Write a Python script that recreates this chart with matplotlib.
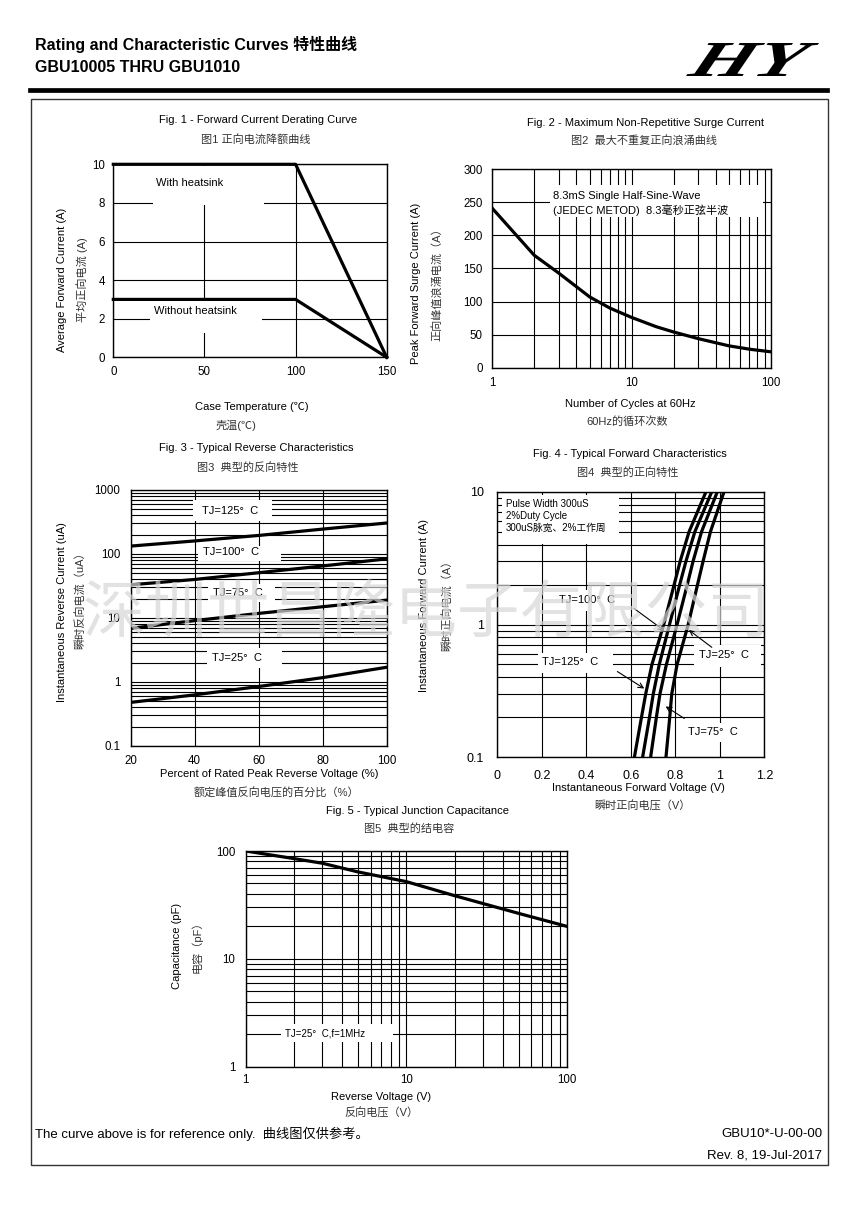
import matplotlib
matplotlib.use('Agg')
import matplotlib.pyplot as plt
from matplotlib.patches import Rectangle, PathPatch
from matplotlib.lines import Line2D
from matplotlib.textpath import TextPath
from matplotlib.font_manager import FontProperties
from matplotlib.transforms import Affine2D
from matplotlib.ticker import NullFormatter

plt.rcParams['font.family'] = ['Liberation Sans', 'Noto Sans CJK SC']

# ---- data ----
# Fig.1 derating
f1_temp = [0, 100, 150]
f1_with = [10, 10, 0]
f1_without = [3, 3, 0]

# Fig.2 surge current
f2_cycles = [1, 2, 3, 5, 7, 10, 15, 20, 30, 50, 70, 100]
f2_current = [241, 170, 143, 107, 90, 76, 62, 54, 44, 33, 28, 24]

# Fig.3 reverse characteristics (uA)
f3_pct = [20, 40, 60, 80, 100]
f3_125 = [133, 160, 195, 245, 305]
f3_100 = [33, 40, 51, 65, 84]
f3_75 = [6.9, 9.1, 11.8, 15, 19]
f3_25 = [0.48, 0.63, 0.85, 1.17, 1.7]

# Fig.4 forward characteristics
f4_amp = [0.1, 0.2, 0.3, 0.5, 1, 2, 3, 5, 10]
f4_va = [0.616, 0.648, 0.667, 0.695, 0.748, 0.795, 0.822, 0.862, 0.938]
f4_vb = [0.653, 0.684, 0.701, 0.728, 0.774, 0.820, 0.848, 0.888, 0.964]
f4_vc = [0.689, 0.715, 0.731, 0.760, 0.808, 0.854, 0.880, 0.918, 0.989]
f4_vd = [0.758, 0.775, 0.784, 0.808, 0.858, 0.900, 0.925, 0.958, 1.019]

# Fig.5 junction capacitance
f5_volt = [1, 2, 3, 5, 10, 20, 50, 100]
f5_cap = [100, 85, 77, 64, 52, 38.5, 26.4, 20]

W, H = 855, 1207
fig = plt.figure(figsize=(W / 100, H / 100), dpi=100)
fig.patch.set_facecolor('white')


def px_axes(x0, y0, x1, y1):
    ax = fig.add_axes([x0 / W, 1 - y1 / H, (x1 - x0) / W, (y1 - y0) / H])
    for s in ax.spines.values():
        s.set_linewidth(1.0)
    ax.tick_params(which='both', length=0, labelsize=8.3)
    return ax


def txt(x, y, s, **kw):
    kw.setdefault('fontsize', 8)
    kw.setdefault('va', 'center')
    kw.setdefault('ha', 'center')
    return fig.text(x / W, 1 - y / H, s, **kw)


def blank(ax, x0, y0, x1, y1):
    ax.add_patch(Rectangle((x0 / W, 1 - y1 / H), (x1 - x0) / W, (y1 - y0) / H,
                           transform=fig.transFigure, fc='white', ec='none', zorder=1.8))


def minors(lo, hi):
    out = []
    d = lo
    while d < hi:
        out += [d * k for k in range(2, 10)]
        d *= 10
    return out


GRID = dict(color='black', lw=0.8)
CURVE = dict(color='black', lw=2.3)
CJK = '#333333'

# ---- header ----
txt(35, 44, 'Rating and Characteristic Curves 特性曲线', ha='left', fontsize=11.5, weight='bold')
txt(35, 67, 'GBU10005 THRU GBU1010', ha='left', fontsize=11.5, weight='bold')

fp = FontProperties(family='Liberation Serif', weight='bold', style='italic')
tp = Affine2D().skew_deg(14, 0).transform_path(TextPath((0, 0), 'HY', size=1, prop=fp))
ext = tp.get_extents()
lax = fig.add_axes([686 / W, 1 - 76 / H, 133 / W, 33 / H])
lax.axis('off')
tr = Affine2D().translate(-ext.x0, -ext.y0).scale(1 / ext.width, 1 / ext.height) + lax.transAxes
lax.add_patch(PathPatch(tp, transform=tr, fc='black', ec='none', clip_on=False))

fig.add_artist(Line2D([30 / W, 827 / W], [1 - 90 / H, 1 - 90 / H], color='black', lw=3.4))
fig.add_artist(Rectangle((31 / W, 1 - 1165 / H), (828 - 31) / W, (1165 - 99) / H,
                         transform=fig.transFigure, fill=False, ec='#333333', lw=1.0))

# ---- Fig. 1 ----
ax1 = px_axes(113.3, 164.3, 386.7, 357.3)
ax1.set_xlim(0, 150)
ax1.set_ylim(0, 10)
ax1.set_xticks([0, 50, 100, 150])
ax1.set_yticks([0, 2, 4, 6, 8, 10])
ax1.grid(True, **GRID)
ax1.tick_params(axis='y', pad=6)
ax1.tick_params(axis='x', pad=6)
ax1.plot(f1_temp, f1_with, clip_on=False, **CURVE)
ax1.plot(f1_temp, f1_without, clip_on=False, **CURVE)
blank(ax1, 152.7, 166, 264, 205)
blank(ax1, 150, 300, 262, 333)
txt(156, 183, 'With heatsink', ha='left')
txt(154, 311, 'Without heatsink', ha='left')
txt(258, 120, 'Fig. 1 - Forward Current Derating Curve')
txt(255.5, 139, '图1 正向电流降额曲线', color=CJK)
txt(61.7, 280, 'Average Forward Current (A)', rotation=90)
txt(81.7, 280, '平均正向电流 (A)', rotation=90, color=CJK)
txt(251.7, 407, 'Case Temperature (℃)')
txt(235.8, 425, '壳温(℃)', color=CJK)

# ---- Fig. 2 ----
ax2 = px_axes(492.3, 169.3, 771, 367.7)
ax2.set_xscale('log')
ax2.set_xlim(1, 100)
ax2.set_ylim(0, 300)
ax2.set_xticks([1, 10, 100])
ax2.set_xticklabels(['1', '10', '100'])
ax2.set_xticks(minors(1, 100), minor=True)
ax2.xaxis.set_minor_formatter(NullFormatter())
ax2.set_yticks(range(0, 301, 50))
ax2.grid(True, which='both', **GRID)
ax2.tick_params(axis='y', pad=7)
ax2.tick_params(axis='x', pad=6.5)
ax2.plot(f2_cycles, f2_current, **CURVE)
blank(ax2, 550, 185, 763.3, 216.7)
txt(553.3, 196, '8.3mS Single Half-Sine-Wave', ha='left')
txt(553.3, 210, '(JEDEC METOD)  8.3毫秒正弦半波', ha='left')
txt(645, 122.7, 'Fig. 2 - Maximum Non-Repetitive Surge Current')
txt(644, 141.7, '图2  最大不重复正向浪涌曲线', color=CJK)
txt(416, 283, 'Peak Forward Surge Current (A)', rotation=90)
txt(438, 282, '正向峰值浪涌电流（A）', rotation=90, color=CJK)
txt(630.5, 404.3, 'Number of Cycles at 60Hz')
txt(627, 421.7, '60Hz的循环次数', color=CJK)

# ---- Fig. 3 ----
ax3 = px_axes(130.7, 490, 386.7, 746)
ax3.set_yscale('log')
ax3.set_xlim(20, 100)
ax3.set_ylim(0.1, 1000)
ax3.set_xticks([20, 40, 60, 80, 100])
ax3.set_yticks([0.1, 1, 10, 100, 1000])
ax3.set_yticklabels(['0.1', '1', '10', '100', '1000'])
ax3.set_yticks(minors(0.1, 1000), minor=True)
ax3.yaxis.set_minor_formatter(NullFormatter())
ax3.grid(True, axis='x', **GRID)
ax3.grid(True, axis='y', which='both', **GRID)
ax3.tick_params(axis='y', pad=7.5)
ax3.tick_params(axis='x', pad=6.5)
for ys in (f3_125, f3_100, f3_75, f3_25):
    ax3.plot(f3_pct, ys, **CURVE)
blank(ax3, 193, 500, 271.7, 521)
blank(ax3, 198, 546, 280.7, 561)
blank(ax3, 208, 584, 275, 602)
blank(ax3, 206.7, 648, 281.7, 668)
txt(201.7, 511, 'TJ=125°  C', ha='left')
txt(203.3, 552, 'TJ=100°  C', ha='left')
txt(212.7, 593, 'TJ=75°  C', ha='left')
txt(211.7, 658, 'TJ=25°  C', ha='left')
txt(255.8, 447.7, 'Fig. 3 - Typical Reverse Characteristics')
txt(247.7, 467.7, '图3  典型的反向特性', color=CJK)
txt(61.7, 611.7, 'Instantaneous Reverse Current (uA)', rotation=90)
txt(79.3, 598, '瞬时反向电流（uA）', rotation=90, color=CJK)
txt(269.3, 774.3, 'Percent of Rated Peak Reverse Voltage (%)')
txt(276, 792.7, '额定峰值反向电压的百分比（%）', color=CJK)

# ---- Fig. 4 ----
ax4 = px_axes(497.3, 491.7, 764.3, 757.3)
ax4.set_yscale('log')
ax4.set_xlim(0, 1.2)
ax4.set_ylim(0.1, 10)
ax4.set_xticks([0, 0.2, 0.4, 0.6, 0.8, 1.0, 1.2])
ax4.set_xticklabels(['0', '0.2', '0.4', '0.6', '0.8', '1', '1.2'])
ax4.set_yticks([0.1, 1, 10])
ax4.set_yticklabels(['0.1', '1', '10'])
ax4.set_yticks(minors(0.1, 10), minor=True)
ax4.yaxis.set_minor_formatter(NullFormatter())
ax4.grid(True, axis='x', **GRID)
ax4.grid(True, axis='y', which='both', **GRID)
ax4.tick_params(axis='both', labelsize=9)
ax4.tick_params(axis='y', pad=9.5)
ax4.tick_params(axis='x', pad=9.5)
for xs in (f4_va, f4_vb, f4_vc, f4_vd):
    ax4.plot(xs, f4_amp, **CURVE)
blank(ax4, 501.7, 495, 619.3, 544)
blank(ax4, 552, 590, 622, 611)
blank(ax4, 538, 653, 613, 673)
blank(ax4, 694, 645, 760.7, 667)
blank(ax4, 683, 723, 741.7, 742)
txt(506, 504, 'Pulse Width 300uS', ha='left', fontsize=7)
txt(506, 516, '2%Duty Cycle', ha='left', fontsize=7)
txt(506, 528, '300uS脉宽、2%工作周', ha='left', fontsize=7)
txt(559.3, 600, 'TJ=100°  C', ha='left')
txt(542.3, 662.3, 'TJ=125°  C', ha='left')
txt(699.3, 655, 'TJ=25°  C', ha='left')
txt(687.7, 731.7, 'TJ=75°  C', ha='left')
ARROW = dict(arrowstyle='->', lw=0.8, color='black', mutation_scale=9)
ax4.annotate('', xy=(0.761, 0.873), xytext=(0.604, 1.36), arrowprops=ARROW)
ax4.annotate('', xy=(0.671, 0.321), xytext=(0.529, 0.454), arrowprops=ARROW)
ax4.annotate('', xy=(0.851, 0.936), xytext=(0.974, 0.654), arrowprops=ARROW)
ax4.annotate('', xy=(0.746, 0.248), xytext=(0.851, 0.191), arrowprops=ARROW)
txt(630, 454, 'Fig. 4 - Typical Forward Characteristics')
txt(628, 472.3, '图4  典型的正向特性', color=CJK)
txt(424, 605, 'Instantaneous Forward Current (A)', rotation=90)
txt(446.7, 603, '瞬时正向电流（A）', rotation=90, color=CJK)
txt(638.8, 788, 'Instantaneous Forward Voltage (V)')
txt(642, 805.7, '瞬时正向电压（V）', color=CJK)

# ---- Fig. 5 ----
ax5 = px_axes(245.7, 851, 567, 1066.7)
ax5.set_xscale('log')
ax5.set_yscale('log')
ax5.set_xlim(1, 100)
ax5.set_ylim(1, 100)
ax5.set_xticks([1, 10, 100])
ax5.set_xticklabels(['1', '10', '100'])
ax5.set_yticks([1, 10, 100])
ax5.set_yticklabels(['1', '10', '100'])
ax5.set_xticks(minors(1, 100), minor=True)
ax5.set_yticks(minors(1, 100), minor=True)
ax5.xaxis.set_minor_formatter(NullFormatter())
ax5.yaxis.set_minor_formatter(NullFormatter())
ax5.grid(True, which='both', **GRID)
ax5.tick_params(axis='y', pad=7.5)
ax5.tick_params(axis='x', pad=5.5)
ax5.plot(f5_volt, f5_cap, **CURVE)
blank(ax5, 280.7, 1024, 393.3, 1042)
txt(285, 1033, 'TJ=25°  C,f=1MHz', ha='left', fontsize=7)
txt(417, 810.7, 'Fig. 5 - Typical Junction Capacitance')
txt(409, 828.3, '图5  典型的结电容', color=CJK)
txt(176.7, 946, 'Capacitance (pF)', rotation=90)
txt(196.7, 944, '电容（pF）', rotation=90, color=CJK)
txt(381, 1096.7, 'Reverse Voltage (V)')
txt(381.7, 1112.7, '反向电压（V）', color=CJK)

# ---- footer ----
txt(35, 1134, 'The curve above is for reference only.  曲线图仅供参考。', ha='left', fontsize=9.5)
txt(822, 1134, 'GBU10*-U-00-00', ha='right', fontsize=9.5)
txt(822, 1155, 'Rev. 8, 19-Jul-2017', ha='right', fontsize=9.5)

# watermark
txt(83, 615, '深圳世昌隆电子有限公司', ha='left', fontsize=45, color='#d6d6d6',
    alpha=0.7, zorder=10, family='Noto Sans CJK SC')

fig.savefig('out.png', dpi=100, facecolor='white')
